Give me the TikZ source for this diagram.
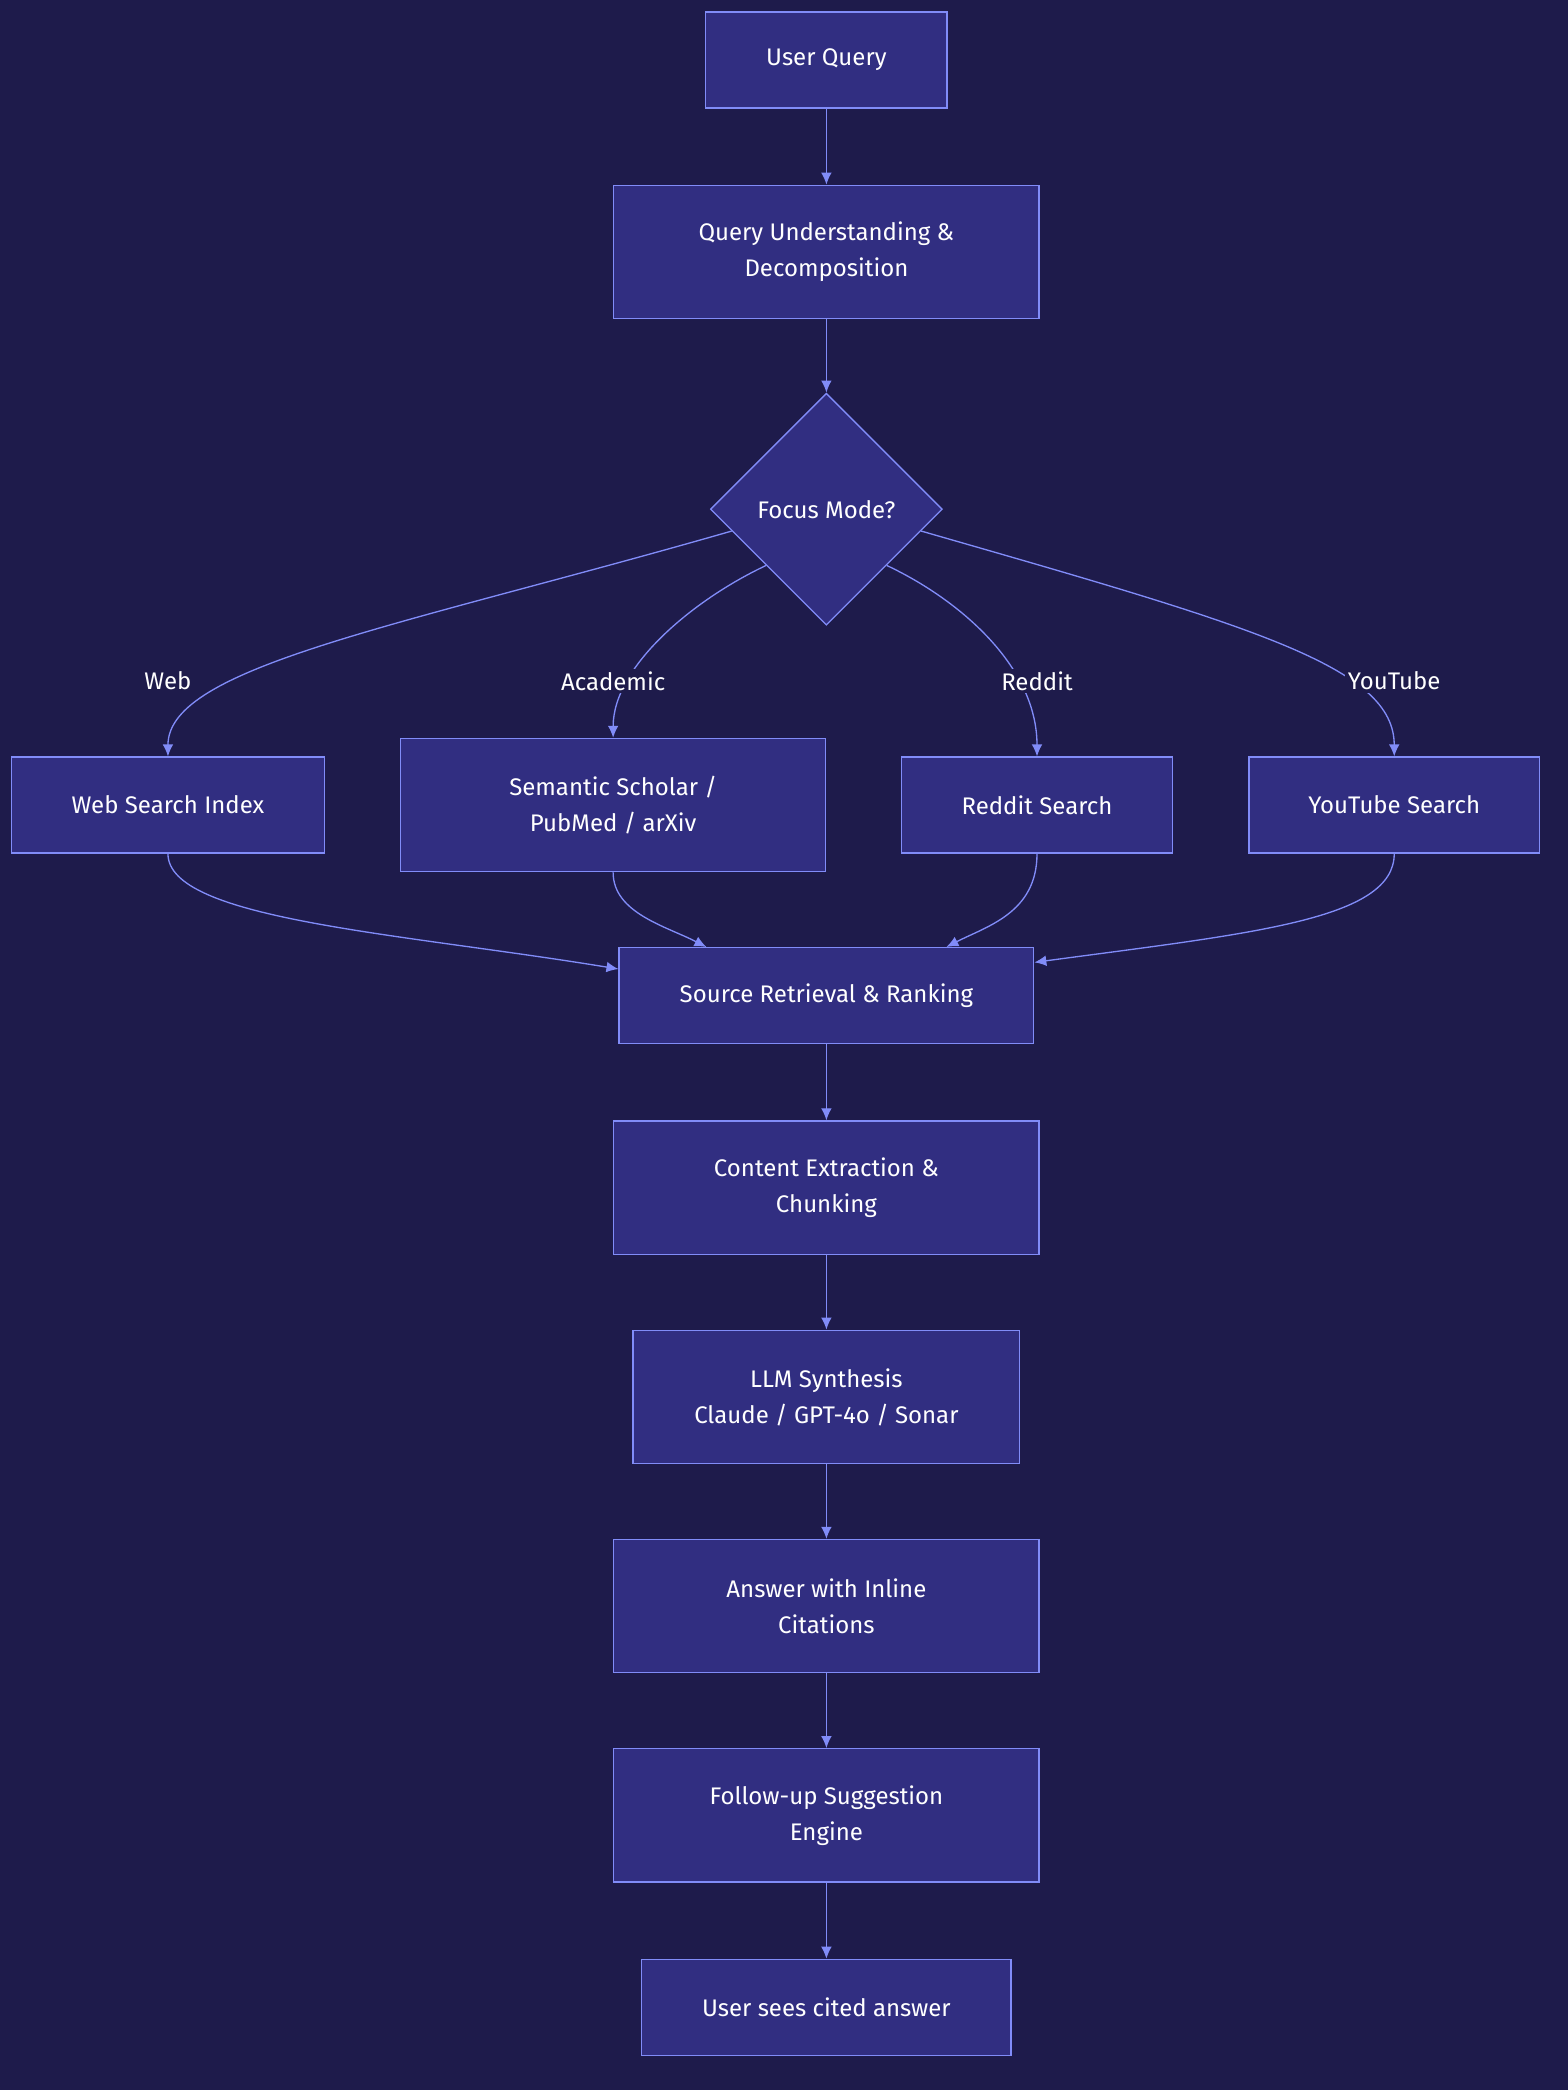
\documentclass[tikz,border=0pt]{standalone}
\usepackage{fontspec}
\setmainfont{Fira Sans}
\usetikzlibrary{shapes.geometric,arrows.meta}
\definecolor{bgcol}{HTML}{1E1B4B}
\definecolor{boxfill}{HTML}{312E81}
\definecolor{edgecol}{HTML}{818CF8}
\tikzset{
  stage/.style={draw=edgecol,fill=boxfill,text=white,align=center,inner sep=0pt,line width=1pt,
    font=\fontsize{18}{27}\selectfont},
  decide/.style={stage,diamond,minimum width=174pt,minimum height=174pt},
  lbl/.style={text=white,fill=bgcol,inner sep=2pt,font=\fontsize{18}{27}\selectfont},
  flow/.style={draw=edgecol,line width=1pt,-{Latex[length=9pt,width=8pt]}}
}
\begin{document}
\begin{tikzpicture}[x=1pt,y=1pt,yscale=-1]
        \fill[bgcol] (0,0) rectangle (1176,1568);
        \useasboundingbox (0,0) rectangle (1176,1568);

        % main column
        \node[stage,minimum width=181pt,minimum height=72pt] (query) at (620,45) {User Query};
        \node[stage,minimum width=319pt,minimum height=100pt] (understand) at (620,189) {Query Understanding \&\\Decomposition};
        \node[decide] (focus) at (620,382) {Focus Mode?};

        % sources
        \node[stage,minimum width=235pt,minimum height=72pt] (web) at (126,604) {Web Search Index};
        \node[stage,minimum width=319pt,minimum height=100pt] (academic) at (460,604) {Semantic Scholar /\\PubMed / arXiv};
        \node[stage,minimum width=203pt,minimum height=72pt] (reddit) at (778,604) {Reddit Search};
        \node[stage,minimum width=218pt,minimum height=72pt] (youtube) at (1046,604) {YouTube Search};

        \node[stage,minimum width=311pt,minimum height=72pt] (retrieve) at (620,747) {Source Retrieval \& Ranking};
        \node[stage,minimum width=319pt,minimum height=100pt] (extract) at (620,891) {Content Extraction \&\\Chunking};
        \node[stage,minimum width=290pt,minimum height=100pt] (llm) at (620,1048) {LLM Synthesis\\Claude / GPT-4o / Sonar};
        \node[stage,minimum width=319pt,minimum height=100pt] (answer) at (620,1205) {Answer with Inline\\Citations};
        \node[stage,minimum width=319pt,minimum height=100pt] (followup) at (620,1362) {Follow-up Suggestion\\Engine};
        \node[stage,minimum width=277pt,minimum height=72pt] (result) at (620,1506) {User sees cited answer};

        % straight flow
        \draw[flow] (query) -- (understand);
        \draw[flow] (understand) -- (focus);
        \draw[flow] (retrieve) -- (extract);
        \draw[flow] (extract) -- (llm);
        \draw[flow] (llm) -- (answer);
        \draw[flow] (answer) -- (followup);
        \draw[flow] (followup) -- (result);

        % branches
        \draw[flow] (focus.-167) .. controls (300,470) and (126,500) .. (web.north);
        \draw[flow] (focus.-137) .. controls (520,450) and (460,500) .. (academic.north);
        \draw[flow] (focus.-43) .. controls (720,450) and (778,500) .. (reddit.north);
        \draw[flow] (focus.-13) .. controls (940,470) and (1046,500) .. (youtube.north);
        \node[lbl] (lweb) at (126,511) {Web};
        \node[lbl] (lacad) at (460,511) {Academic};
        \node[lbl] (lreddit) at (778,511) {Reddit};
        \node[lbl] (lyt) at (1046,511) {YouTube};

        % merge
        \draw[flow] (web.south) .. controls (126,690) and (300,700) .. ([yshift=-20pt]retrieve.west);
        \draw[flow] (academic.south) .. controls (460,685) and (500,695) .. ([xshift=-90pt]retrieve.north);
        \draw[flow] (reddit.south) .. controls (778,685) and (740,695) .. ([xshift=90pt]retrieve.north);
        \draw[flow] (youtube.south) .. controls (1046,690) and (940,700) .. ([yshift=-25pt]retrieve.east);
\end{tikzpicture}
\end{document}
